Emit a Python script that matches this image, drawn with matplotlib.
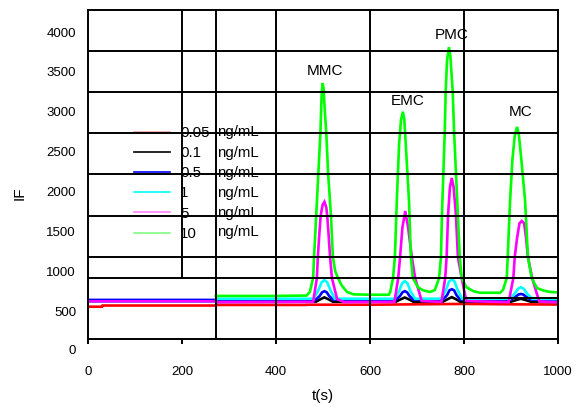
import matplotlib
matplotlib.use("Agg")
import matplotlib.pyplot as plt

plt.rcParams['font.family'] = ['Liberation Sans', 'DejaVu Sans']

# ---------------- data ----------------
labels = ["0.05", "0.1", "0.5", "1", "5", "10"]
unit = "ng/mL"
colors = ["#ff0000", "#000000", "#0000ff", "#00ffff", "#ff00ff", "#00ff00"]
legend_colors = ["#f4a0a0", "#000000", "#0000ff", "#00ffff", "#ff80ff", "#80ff80"]

# 0.05 ng/mL (red)
t_red = [0, 30, 31, 272, 273, 400, 460, 470, 600, 700, 800, 900, 1000]
v_red = [555, 555, 570, 570, 577, 577, 577, 580, 580, 585, 590, 585, 582]

# 0.1 ng/mL (black)
t_black = [0, 272, 273, 485, 495, 503, 511, 521, 655, 666, 674, 682, 692,
           755, 766, 774, 782, 792, 900, 912, 921, 930, 942, 1000]
v_black = [620, 620, 615, 618, 650, 672, 650, 618, 618, 650, 670, 650, 618,
           618, 652, 675, 652, 618, 618, 640, 655, 640, 618, 615]

# 0.5 ng/mL (blue)
t_blue = [0, 272, 273, 485, 493, 498, 503, 508, 513, 521, 655, 664, 669, 674,
          679, 684, 692, 755, 764, 769, 774, 779, 784, 792, 900, 910, 916, 921,
          926, 932, 942, 1000]
v_blue = [640, 640, 645, 645, 690, 735, 750, 735, 690, 645, 645, 690, 735, 750,
          735, 690, 645, 645, 700, 760, 775, 760, 700, 645, 645, 680, 708, 715,
          708, 680, 645, 640]

# 1 ng/mL (cyan)
t_cyan = [0, 272, 273, 480, 490, 497, 503, 509, 516, 525, 652, 662, 668, 674,
          680, 686, 696, 752, 762, 768, 774, 780, 786, 796, 898, 908, 915, 921,
          927, 934, 945, 1000]
v_cyan = [620, 620, 655, 655, 760, 860, 890, 860, 760, 655, 655, 750, 845, 877,
          845, 750, 655, 655, 770, 870, 900, 870, 770, 655, 655, 720, 780, 800,
          780, 720, 655, 650]

# 5 ng/mL (magenta)
t_mag = [0, 272, 273, 479, 487, 489, 492, 495, 499, 503, 507, 509, 512, 515,
         519, 530, 545, 652, 660, 664, 669, 675, 681, 689, 696, 710, 752, 760,
         763, 766, 770, 774, 778, 783, 787, 795, 805, 895, 905, 908, 913, 918,
         923, 928, 932, 936, 945, 960, 1000]
v_mag = [622, 622, 612, 615, 915, 1179, 1450, 1693, 1830, 1870, 1800, 1693, 1450,
         1179, 915, 650, 612, 615, 915, 1179, 1550, 1755, 1550, 1179, 915, 625,
         615, 915, 1179, 1693, 2050, 2170, 2050, 1693, 1179, 915, 625, 612, 915,
         1179, 1420, 1600, 1630, 1600, 1420, 1179, 915, 620, 610]

# 10 ng/mL (green)
t_green = [272, 300, 400, 465, 472, 479, 481, 485.5, 490, 494.5, 497, 499, 501,
           504, 507, 511, 517, 521, 526, 532, 540, 551, 565, 600, 640, 643, 649,
           653, 657, 662, 666, 670, 673, 677, 683, 687, 691, 702, 713, 728, 738,
           747, 751, 753, 756, 759, 761, 764, 768, 771, 776, 779, 783, 787, 791,
           795, 805, 820, 834, 877, 883, 891, 893, 898, 903, 908, 913, 917, 922,
           930, 936, 944, 955, 968, 983, 1000]
v_green = [690, 690, 690, 695, 740, 915, 1179, 1693, 2219, 2734, 3200, 3360, 3300,
           3000, 2734, 2219, 1693, 1179, 1000, 915, 820, 740, 710, 705, 705, 740,
           915, 1179, 1880, 2600, 2900, 3000, 2900, 2500, 1880, 1179, 915, 800,
           760, 740, 765, 915, 1179, 1693, 2219, 2734, 3248, 3650, 3810, 3700,
           3248, 2734, 2219, 1693, 1179, 915, 800, 750, 730, 730, 765, 915, 1179,
           1880, 2400, 2700, 2810, 2700, 2400, 1880, 1179, 915, 790, 760, 740, 735]

series_t = [t_red, t_black, t_blue, t_cyan, t_mag, t_green]
series_v = [v_red, v_black, v_blue, v_cyan, v_mag, v_green]

peak_names = ["MMC", "EMC", "PMC", "MC"]
peak_t = [504, 681, 774, 921]
peak_v = [3511, 3135, 3962, 2997]

x_ticks = [0, 200, 400, 600, 800, 1000]
y_ticks = [500, 1000, 1500, 2000, 2500, 3000, 3500, 4000]

# ---------------- layout / style ----------------
W, H = 576, 407
fig = plt.figure(figsize=(W / 100, H / 100), dpi=100)
ax = fig.add_axes([88 / W, 68 / H, 470 / W, 329 / H])
ax.set_xlim(0, 1000)
ax.set_ylim(150, 4276)

lines = []
for t, v, c, lab in zip(series_t, series_v, colors, labels):
    ln, = ax.plot(t, v, color=c, lw=1.9, label=lab, zorder=2,
                  solid_joinstyle="miter")
    lines.append(ln)

# odd black rule lines of the original figure
LW = 1.4
for yv in [3762, 3248, 2734, 2219, 1693, 1179, 915]:
    ax.axhline(yv, color="black", lw=LW, zorder=5)
ax.axhline(665, xmin=0.8, xmax=1.0, color="black", lw=LW, zorder=5)
ax.axvline(200, ymin=(915 - 150) / 4126, ymax=1, color="black", lw=LW, zorder=5)
for xv in [272, 400, 600, 800]:
    ax.axvline(xv, color="black", lw=LW, zorder=5)

for s in ax.spines.values():
    s.set_linewidth(LW)
    s.set_zorder(6)

ax.set_xticks(x_ticks)
ax.set_xticklabels([str(x) for x in x_ticks])
ax.set_yticks(y_ticks)
ax.set_yticklabels([str(y) for y in y_ticks])
ax.tick_params(axis="x", direction="out", length=3.6, width=LW, pad=15.5, labelsize=9.5)
ax.tick_params(axis="y", length=0, pad=8.6, labelsize=9.5)
ax.text(-0.0255, 0, "0", transform=ax.get_yaxis_transform(), ha="right",
        va="center", fontsize=9.5, clip_on=False)

ax.set_xlabel("t(s)", fontsize=11, labelpad=8)
ax.set_ylabel("IF", fontsize=11)
ax.yaxis.set_label_coords((20 - 88) / 470, (339 - 193) / 329)
ax.yaxis.label.set_va("center")

for name, tx, vy in zip(peak_names, peak_t, peak_v):
    ax.text(tx, vy, name, ha="center", va="center", fontsize=11, zorder=3)

leg = ax.legend(handles=lines, loc="upper left", frameon=False, fontsize=10.8,
                bbox_to_anchor=(134 / W, 1 - 126 / H), bbox_transform=fig.transFigure,
                borderpad=0, borderaxespad=0, handlelength=2.42, handletextpad=0.65,
                labelspacing=0.41)
leg.set_zorder(4)
for hl, c in zip(leg.get_lines(), legend_colors):
    hl.set_color(c)
    hl.set_linewidth(1.2)

row_y = [132, 153, 173, 193, 213, 232]
for ry in row_y:
    fig.text(217 / W, 1 - ry / H, unit, ha="left", va="center", fontsize=10.8, zorder=4)

fig.savefig("out.png", dpi=100)
